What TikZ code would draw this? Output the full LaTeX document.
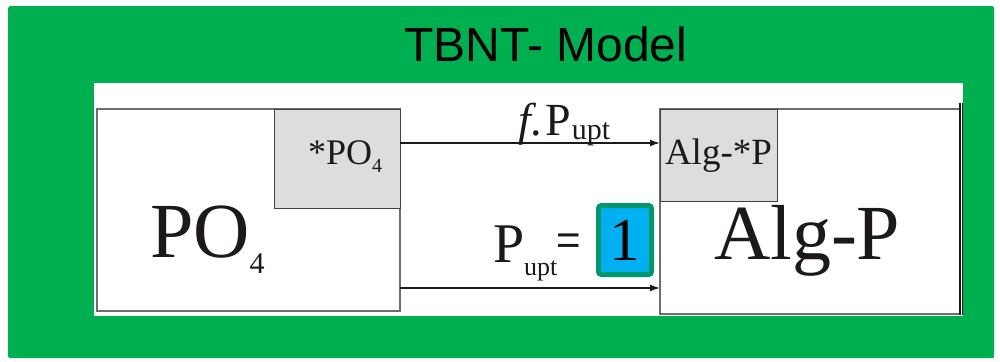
\documentclass[tikz,border=0pt]{standalone}
\usepackage{fontspec}
\setmainfont{Liberation Serif}
\newfontfamily\titlefont{Liberation Sans}
\usetikzlibrary{arrows.meta}
\definecolor{mygreen}{RGB}{0,176,80}
\definecolor{boxgray}{RGB}{221,221,221}
\definecolor{cyanfill}{RGB}{0,176,240}
\definecolor{tealedge}{RGB}{0,150,110}
\definecolor{edgegray}{RGB}{110,110,110}
\definecolor{inkc}{RGB}{30,25,25}
\begin{document}
\begin{tikzpicture}[x=1pt,y=-1pt,
  fs/.style={inner sep=0pt, outer sep=0pt, text=inkc, font=\fontsize{#1}{#1}\selectfont},
  bigbox/.style={draw=edgegray, line width=1.2pt, fill=white, inner sep=0pt, outer sep=0pt, anchor=north west},
  graybox/.style={draw=black!75, line width=1pt, fill=boxgray, inner sep=0pt, outer sep=0pt, anchor=north west},
  flow/.style={line width=1.5pt, draw=inkc, -{Latex[length=10pt,width=7pt]}},
  valbox/.style={draw=tealedge, line width=5pt, fill=cyanfill, rounded corners=3pt, inner sep=0pt,
     minimum width=53pt, minimum height=69pt, text=black, font=\fontsize{61}{61}\selectfont}]
\useasboundingbox (0,0) rectangle (1000,361);
\node[fill=mygreen, rounded corners=2pt, anchor=north west, minimum width=986pt, minimum height=352pt, inner sep=0pt] (frame) at (8,6) {};
\node[fill=white, anchor=north west, minimum width=869pt, minimum height=233pt, inner sep=0pt] (panel) at (94,83) {};
\node[anchor=base, inner sep=0pt, font=\titlefont\fontsize{48}{48}\selectfont] (title) at (546,62) {TBNT- Model};
% boxes
\node[bigbox, minimum width=303pt, minimum height=202pt] (po) at (97,109) {};
\node[graybox, minimum width=126pt, minimum height=99pt] (star) at (274,109) {};
\node[bigbox, minimum width=299.5pt, minimum height=205pt] (alg) at (660,109) {};
\node[graybox, minimum width=117pt, minimum height=92pt] (algstar) at (660,109) {};
% right double line
\draw[line width=2pt, draw=inkc] ([yshift=6pt]alg.north east) -- ([yshift=-1pt]alg.south east);
\draw[line width=1pt, draw=inkc] ([xshift=3pt,yshift=6pt]alg.north east) -- ([xshift=3pt,yshift=-1pt]alg.south east);
% texts
\node[fs=36, anchor=base west] (starpo) at (308,164) {*PO};
\node[fs=20, anchor=base west] (starpo4) at (starpo.base east) [yshift=-8pt] {4};
\node[fs=78, anchor=base west] (potext) at (150,257) {PO};
\node[fs=30, anchor=base west] (potext4) at (potext.base east) [yshift=-16pt] {4};
\node[fs=37, anchor=base west] (algstartext) at (665,164.5) {Alg-*P};
\node[fs=78, anchor=base west] (algtext) at (714,259) {Alg-P};
% arrows
\draw[flow] ([yshift=-34pt]star.north east) -- ([yshift=-34pt]algstar.north west);
\draw[flow] ([yshift=23pt]po.south east) -- ([yshift=26pt]alg.south west);
% labels
\node[fs=46, anchor=base west] (fp) at (518,135) {\textit{f}.\hspace{3pt}P};
\node[fs=30, anchor=base west] (fpsub) at (fp.base east) [yshift=-4pt, xshift=1pt] {upt};
\node[fs=56, anchor=base west] (pu) at (493,262) {P};
\node[fs=26, anchor=base west] (pusub) at (pu.base east) [yshift=-13pt] {upt};
\node[fs=42, anchor=center, font=\titlefont\fontsize{42}{42}\selectfont] (eq) at (569,244) {=};
\node[valbox] (one) at (625,240) {1};
\end{tikzpicture}
\end{document}
